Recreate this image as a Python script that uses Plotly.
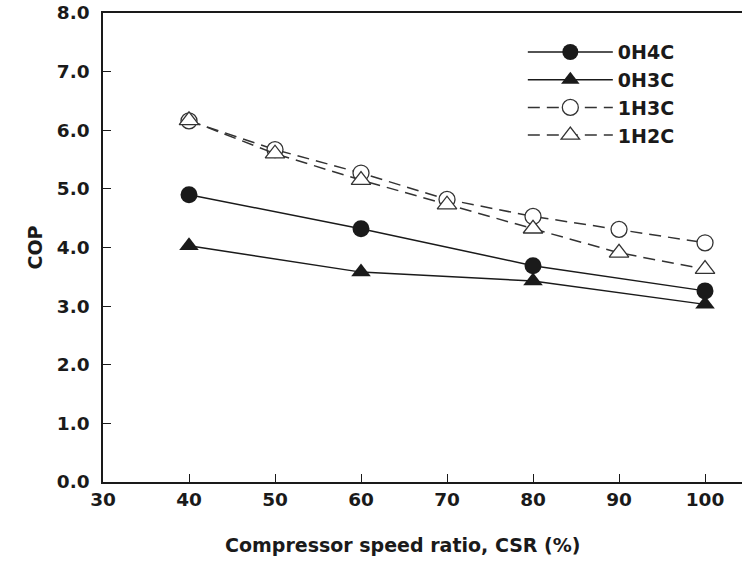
import plotly.graph_objects as go

# Compressor speed ratio (%) and measured COP for each configuration
csr_short = [40, 60, 80, 100]
csr_full = [40, 50, 60, 70, 80, 90, 100]

cop_0h4c = [4.90, 4.32, 3.69, 3.26]
cop_0h3c = [4.03, 3.58, 3.43, 3.03]
cop_1h3c = [6.16, 5.67, 5.27, 4.82, 4.53, 4.31, 4.08]
cop_1h2c = [6.17, 5.60, 5.15, 4.73, 4.32, 3.91, 3.63]

x_ticks = [30, 40, 50, 60, 70, 80, 90, 100]
y_ticks = [0, 1, 2, 3, 4, 5, 6, 7, 8]

FONT = "DejaVu Sans, sans-serif"
INK = "#1a1a1a"
DASH_INK = "#333333"

fig = go.Figure()

fig.add_trace(go.Scatter(
    x=csr_short, y=cop_0h4c, name="0H4C", legendgroup="a", mode="lines+markers",
    line=dict(color=INK, width=1.5),
    marker=dict(symbol="circle", size=17, color=INK, line=dict(width=0)),
))
fig.add_trace(go.Scatter(
    x=csr_short, y=cop_0h3c, name="0H3C", legendgroup="b", mode="lines+markers",
    line=dict(color=INK, width=1.5),
    marker=dict(symbol="triangle-up", size=17, color=INK, line=dict(width=0)),
))
fig.add_trace(go.Scatter(
    x=csr_full, y=cop_1h3c, name="1H3C", legendgroup="c", mode="lines+markers",
    line=dict(color=DASH_INK, width=1.5, dash="12px,7px"),
    marker=dict(symbol="circle", size=16, color="white", line=dict(color=DASH_INK, width=1.3)),
))
fig.add_trace(go.Scatter(
    x=csr_full, y=cop_1h2c, name="1H2C", legendgroup="d", mode="lines+markers",
    line=dict(color=DASH_INK, width=1.5, dash="12px,7px"),
    marker=dict(symbol="triangle-up", size=17, color="white", line=dict(color=DASH_INK, width=1.3)),
))

fig.update_layout(
    width=742, height=570,
    margin=dict(l=103, r=0, t=13, b=88),
    paper_bgcolor="white", plot_bgcolor="white",
    font=dict(family=FONT, size=19, color=INK),
    showlegend=True,
    legend=dict(
        x=0.657, y=0.957, xanchor="left", yanchor="top",
        bgcolor="rgba(0,0,0,0)", borderwidth=0,
        font=dict(family=FONT, size=19, color=INK, weight="bold"),
        itemwidth=85, tracegroupgap=0,
    ),
    # x-axis title placed as a paper annotation so it sits left of the axis centre
    annotations=[dict(
        text="Compressor speed ratio, CSR (%)",
        xref="paper", yref="paper", x=0.47, y=-0.134,
        xanchor="center", yanchor="middle", showarrow=False,
        font=dict(family=FONT, size=19, color=INK, weight="bold"),
    )],
)

fig.update_xaxes(
    range=[30, 104.3], tickvals=x_ticks, ticktext=[str(v) for v in x_ticks],
    showgrid=False, zeroline=False,
    showline=True, linecolor=INK, linewidth=1.5, mirror=True,
    ticks="inside", ticklen=8, tickwidth=1.2, tickcolor=INK,
    tickfont=dict(family=FONT, size=18.5, color=INK, weight="bold"),
)
fig.update_yaxes(
    range=[0, 8], tickvals=y_ticks, ticktext=[f"{v:.1f}" for v in y_ticks],
    showgrid=False, zeroline=False,
    showline=True, linecolor=INK, linewidth=1.5, mirror=False,
    ticks="inside", ticklen=8, tickwidth=1.2, tickcolor=INK,
    ticklabelstandoff=8,
    tickfont=dict(family=FONT, size=18.5, color=INK, weight="bold"),
    title=dict(text="COP", standoff=9,
               font=dict(family=FONT, size=19, color=INK, weight="bold")),
)

fig.write_html("out.html")
